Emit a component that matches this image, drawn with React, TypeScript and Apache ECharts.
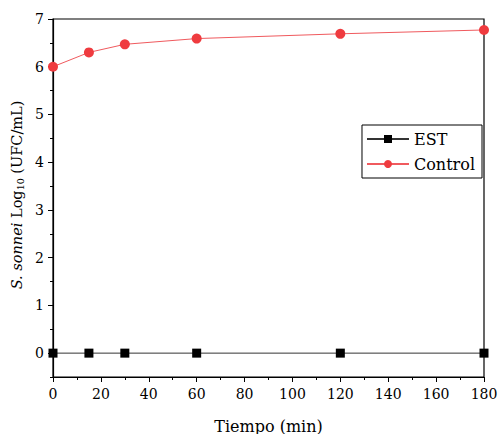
import React, { useEffect, useRef } from "react";
import * as echarts from "echarts";

const times = [0, 15, 30, 60, 120, 180];
const estValues = [0, 0, 0, 0, 0, 0];
const controlValues = [6.0, 6.3, 6.47, 6.59, 6.69, 6.77];
const seriesNames = ["EST", "Control"];
const yMajorTicks = [0, 1, 2, 3, 4, 5, 6, 7];
const yMinorTicks = [-0.5, 0.5, 1.5, 2.5, 3.5, 4.5, 5.5, 6.5];
const xTitle = "Tiempo (min)";

const FONT = "'DejaVu Serif', 'Liberation Serif', serif";

export default function App() {
  const ref = useRef<HTMLDivElement>(null);
  useEffect(() => {
    document.body.style.margin = "0";
    if (!ref.current) return;
    const chart = echarts.init(ref.current, undefined, { renderer: "svg" });
    const baseY = {
      type: "value",
      min: -0.5,
      max: 7,
      interval: 0.5,
      splitLine: { show: false },
    };
    chart.setOption({
      animation: false,
      backgroundColor: "#ffffff",
      textStyle: { fontFamily: FONT },
      grid: {
        left: 53,
        right: 14,
        top: 19,
        bottom: 57,
        show: true,
        borderColor: "#000",
        borderWidth: 1.2,
        containLabel: false,
        outerBoundsMode: "none",
      },
      legend: {
        right: 16,
        top: 125,
        orient: "vertical",
        borderColor: "#000",
        borderWidth: 1,
        borderRadius: 0,
        padding: [6, 7, 6, 4],
        itemGap: 9,
        itemWidth: 42,
        itemHeight: 10,
        textStyle: { fontFamily: FONT, fontSize: 16, color: "#000" },
        data: seriesNames,
      },
      xAxis: {
        type: "value",
        min: 0,
        max: 180,
        interval: 20,
        name: xTitle,
        nameLocation: "middle",
        nameGap: 41,
        nameTextStyle: { fontFamily: FONT, fontSize: 16, color: "#000" },
        axisLine: { show: true, onZero: false, lineStyle: { color: "#000", width: 1.2 } },
        axisTick: { show: true, inside: false, length: 5, lineStyle: { color: "#000" } },
        minorTick: { show: true, splitNumber: 2, length: 3, lineStyle: { color: "#000" } },
        axisLabel: { fontFamily: FONT, fontSize: 14, color: "#000", margin: 10 },
        splitLine: { show: false },
      },
      yAxis: [
        {
          ...baseY,
          axisLine: { show: true, onZero: false, lineStyle: { color: "#000", width: 1.2 } },
          axisTick: { show: true, inside: false, length: 5, customValues: yMajorTicks, lineStyle: { color: "#000" } },
          axisLabel: {
            fontFamily: FONT,
            fontSize: 14,
            color: "#000",
            margin: 9,
            customValues: yMajorTicks,
          },
        },
        {
          ...baseY,
          position: "left",
          axisLine: { show: false },
          axisTick: { show: true, inside: false, length: 3, customValues: yMinorTicks, lineStyle: { color: "#000" } },
          axisLabel: { show: false },
        },
      ],
      graphic: [
        {
          type: "text",
          x: 17,
          y: 195,
          rotation: Math.PI / 2,
          style: {
            text: "{i|S. sonnei} Log{s|10} (UFC/mL)",
            fontFamily: FONT,
            fontSize: 14.5,
            fill: "#000",
            align: "center",
            verticalAlign: "middle",
            rich: {
              i: { fontStyle: "italic", fontFamily: FONT, fontSize: 14.5 },
              s: { fontSize: 9.5, fontFamily: FONT, padding: [7, 0, 0, 0] },
            },
          },
        },
      ],
      series: [
        {
          name: seriesNames[0],
          type: "line",
          data: times.map((t, i) => [t, estValues[i]]),
          symbol: "rect",
          symbolSize: 9,
          itemStyle: { color: "#000" },
          lineStyle: { color: "#333", width: 1 },
          clip: false,
        },
        {
          name: seriesNames[1],
          type: "line",
          data: times.map((t, i) => [t, controlValues[i]]),
          symbol: "circle",
          symbolSize: 10,
          itemStyle: { color: "#ef3b3f" },
          lineStyle: { color: "#f05a5e", width: 1 },
          clip: false,
        },
      ],
    });
    return () => chart.dispose();
  }, []);
  return <div ref={ref} style={{ width: 498, height: 434 }} />;
}
